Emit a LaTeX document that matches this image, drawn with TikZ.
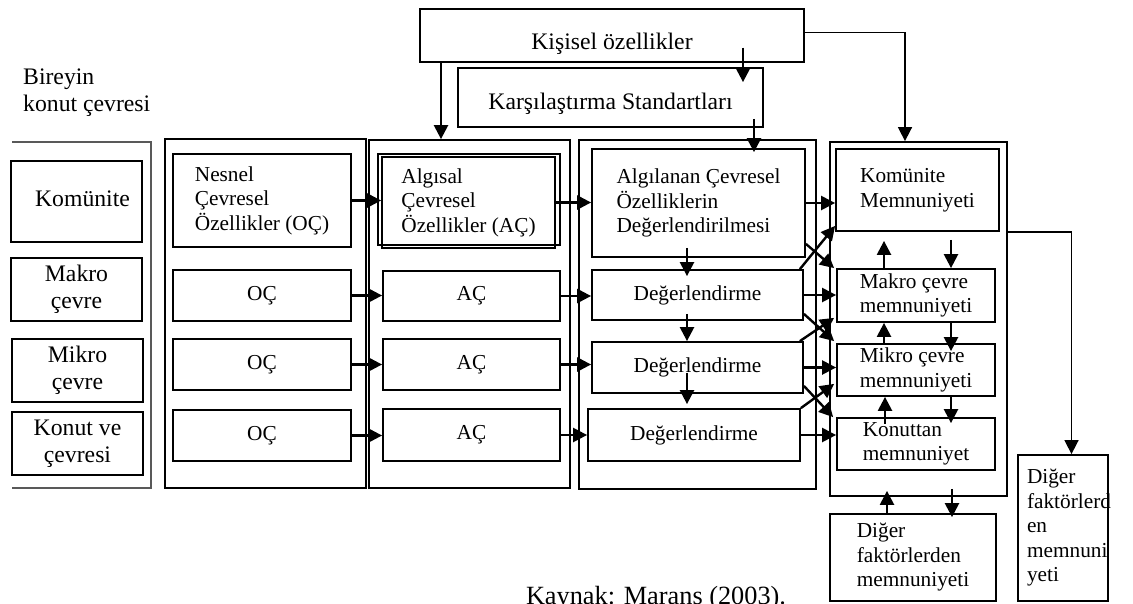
\documentclass[tikz,border=0pt]{standalone}
\usepackage{fontspec}
\setmainfont{Liberation Serif}
\usetikzlibrary{arrows.meta}
\newcommand\dgBoxFont{\fontsize{21.3}{24.5}\selectfont}
\newcommand\dgBigFont{\fontsize{23.7}{27}\selectfont}
\newcommand\dgCapFont{\fontsize{26.3}{30}\selectfont}

\begin{document}
\begin{tikzpicture}[x=1pt,y=-1pt,
  box/.style={draw, line width=1.8pt, inner sep=0pt, align=center, font=\dgBoxFont},
  lbox/.style={box, align=left},
  bigbox/.style={box, font=\dgBigFont},
  frame/.style={draw, line width=1.8pt, inner sep=0pt},
  wh/.style 2 args={minimum width=#1pt, minimum height=#2pt},
  arr/.style={line width=2.4pt, -{Triangle[length=14pt,width=14pt]}},
  arrthin/.style={line width=1.6pt, -{Triangle[length=14pt,width=14pt]}},
]
\useasboundingbox (0,0) rectangle (1133,603);

% --- left column: the individual's housing environment ---
\node[anchor=north west, inner sep=0pt, align=left, font=\dgBigFont] (title) at (23,69) {Bireyin\\konut çevresi};
\draw[line width=1.2pt, black!65] (12,142) -- (151,142) -- (151,488) -- (12,488);
\node[bigbox, wh={131}{81}] (env1) at (76.5,201.5) {\raisebox{5.5pt}{\hspace*{12pt}Komünite}};
\node[bigbox, wh={131}{63}] (env2) at (76.5,289.5) {Makro\\çevre};
\node[bigbox, wh={131}{63}] (env3) at (77.5,370.5) {Mikro\\çevre};
\node[bigbox, wh={131}{63}] (env4) at (77.5,443.5) {Konut ve\\çevresi};

% --- column frames ---
\node[frame, wh={201}{349}] (col2) at (265.5,313.5) {};
\node[frame, wh={201}{348}] (col3) at (469.5,314) {};
\node[frame, wh={237}{349}] (col4) at (697.5,314.5) {};
\node[frame, wh={177}{354}] (col5) at (918.5,319) {};

% --- top boxes (text set on a lowered baseline) ---
\node[bigbox, wh={384}{53}, text height=27pt, text depth=0pt] (kis) at (612,35.5) {Kişisel özellikler};
\node[bigbox, wh={305}{59}, text height=23pt, text depth=0pt] (kar) at (610.5,97.5) {Karşılaştırma Standartları};

% --- objective characteristics ---
\node[lbox, wh={178}{93}] (nes) at (262,200.5) {Nesnel\\Çevresel\\Özellikler (OÇ)};
\node[box, wh={178}{51}] (oc1) at (262,295.5) {OÇ};
\node[box, wh={178}{51}] (oc2) at (262,364.5) {OÇ};
\node[box, wh={178}{51}] (oc3) at (262,435.5) {OÇ};

% --- perceived characteristics ---
\node[draw, line width=1.2pt, inner sep=0pt, wh={182}{91}] (algedge) at (469,199.5) {};
\node[lbox, wh={173}{91}] (alg) at (468.5,202.5) {Algısal\\Çevresel\\Özellikler (AÇ)};
\node[box, wh={177}{50}] (ac1) at (471.5,296) {AÇ};
\node[box, wh={177}{51}] (ac2) at (471.5,364.5) {AÇ};
\node[box, wh={177}{52}] (ac3) at (471.5,435) {AÇ};

% --- evaluation ---
\node[lbox, wh={213}{108}] (algd) at (698.5,203) {Algılanan Çevresel\\Özelliklerin\\Değerlendirilmesi};
\node[box, wh={211}{50}] (deg1) at (697.5,295) {Değerlendirme};
\node[box, wh={211}{51}] (deg2) at (697.5,367.5) {Değerlendirme};
\node[box, wh={212}{52}] (deg3) at (694,435) {Değerlendirme};

% --- satisfaction ---
\node[lbox, wh={163}{82}] (kmm) at (917.5,190) {Komünite\\Memnuniyeti};
\node[lbox, wh={158}{53}] (mkm) at (916,295.5) {Makro çevre\\memnuniyeti};
\node[lbox, wh={158}{52}] (mim) at (916,370) {Mikro çevre\\memnuniyeti};
\node[lbox, wh={158}{52}] (knm) at (916,444) {Konuttan\\memnuniyet};

\node[lbox, wh={166}{87}] (dfm) at (913,557.5) {Diğer\\faktörlerden\\memnuniyeti};
\node[lbox, text width=72pt, wh={90}{146}] (dfr) at (1063,528) {Diğer\\\mbox{faktörlerd}\\en\\\mbox{memnuni}\\yeti};

\node[anchor=base, font=\dgCapFont, inner sep=0pt] (src) at (656,604) {Kaynak: Marans (2003).};

% --- connectors from the top ---
\draw[arr] ([xshift=-171pt]kis.south) -- ([xshift=-28.5pt]col3.north);
\draw[arr] ([xshift=131pt,yshift=-12pt]kis.center) -- ([xshift=132.5pt,yshift=-15pt]kar.north);
\draw[arrthin] ([yshift=3pt]kis.east) -| ([xshift=-13.5pt]col5.north);
\draw[arr] ([xshift=143.5pt,yshift=9pt]kar.south) -- ([xshift=55.5pt,yshift=-4pt]algd.north);

% --- left to right flow ---
\draw[arr] (nes.east) -- (nes.east -| alg.west);
\draw[arr] (alg.east) -- (alg.east -| algd.west);
\foreach \i in {1,2,3} {
  \draw[arr] (oc\i.east) -- (oc\i.east -| ac\i.west);
  \draw[arr] (ac\i.east) -- (ac\i.east -| deg\i.west);
}

% --- evaluation chain ---
\draw[arr] ([xshift=-11.5pt,yshift=10pt]algd.south) -- ([xshift=-10.5pt,yshift=-7pt]deg1.north);
\draw[arr] ([xshift=-10.5pt,yshift=7pt]deg1.south) -- ([xshift=-10.5pt]deg2.north);
\draw[arr] ([xshift=-10.5pt,yshift=-5.5pt]deg2.center) -- ([xshift=-7pt,yshift=4pt]deg3.north);

% --- evaluation to satisfaction ---
\draw[arr] (algd.east) -- (algd.east -| kmm.west);
\draw[arr] (deg1.east) -- (deg1.east -| mkm.west);
\draw[arr] (deg2.east) -- (deg2.east -| mim.west);
\draw[arr] (deg3.east) -- (deg3.east -| knm.west);

\draw[arr] ([xshift=-4pt]deg1.north east) -- ([yshift=6pt]kmm.south west);
\draw[arr] ([yshift=14pt]algd.south east) -- ([xshift=-2pt]mkm.north west);
\draw[arr] ([yshift=7pt]deg1.south east) -- ([xshift=-2pt,yshift=2pt]mim.north west);
\draw[arr] ([xshift=-4pt]deg2.north east) -- ([xshift=-2pt,yshift=5pt]mkm.south west);
\draw[arr] ([yshift=8pt]deg2.south east) -- ([xshift=-3pt]knm.north west);
\draw[arr] (deg3.north east) -- ([xshift=-2pt,yshift=13pt]mim.south west);

% --- links between satisfaction levels ---
\draw[arr] ([xshift=-32pt]mkm.north) -- ([xshift=-33.5pt,yshift=-9pt]kmm.south);
\draw[arr] ([xshift=33.5pt,yshift=-8pt]kmm.south) -- ([xshift=35pt]mkm.north);
\draw[arr] ([xshift=-32pt]mim.north) -- ([xshift=-32pt]mkm.south);
\draw[arr] ([xshift=35pt]mkm.south) -- ([xshift=35pt,yshift=-8pt]mim.north);
\draw[arr] ([xshift=-31pt,yshift=-7pt]knm.north) -- ([xshift=-31pt]mim.south);
\draw[arr] ([xshift=35pt]mim.south) -- ([xshift=35pt,yshift=-6pt]knm.north);
\draw[arr] ([xshift=-26pt]dfm.north) -- ([xshift=-31.5pt,yshift=6pt]col5.south);
\draw[arr] ([xshift=33.5pt,yshift=8pt]col5.south) -- ([xshift=39pt,yshift=-4pt]dfm.north);

\draw[arrthin] (col5.east |- kmm.south) -| ([xshift=8.5pt]dfr.north);
\end{tikzpicture}
\end{document}
